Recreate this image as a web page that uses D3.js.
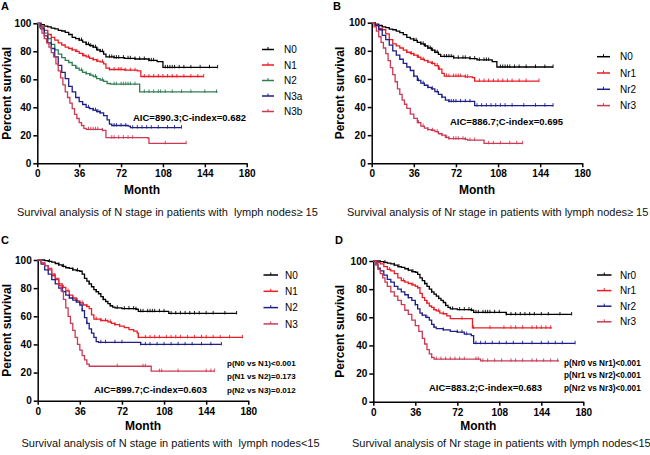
<!DOCTYPE html>
<html><head><meta charset="utf-8">
<script src="https://cdn.jsdelivr.net/npm/d3@7"></script>
<style>
body{margin:0;background:#fff;}
text{font-family:Arial,"Liberation Sans",sans-serif;}
.cap{white-space:pre;}
</style></head><body>
<svg id="c" width="650" height="455"></svg>
<script>
// ---------- shared tick labels ----------
const xTicks = [0, 36, 72, 108, 144, 180];
const yTicks = [0, 20, 40, 60, 80, 100];

// ---------- Panel A (N stage, LN >= 15) ----------
const aNames = ["N0", "N1", "N2", "N3a", "N3b"];
const aN0 = [[0,100],[3,99],[6,98],[9,97.5],[12,96.5],[15,96],[18,95],[21,94.5],[24,93.5],[27,92],[30,90],[33,89],[36,88],[39,86.5],[42,85],[45,84],[48,83],[51,81],[54,80],[57,78],[59,76],[66,75.5],[75,75],[84,74.5],[96,73.5],[103,72.6],[108,68.5],[155,68.5]];
const aN1 = [[0,100],[3,98],[6,95],[9,92],[12,90],[15,88],[18,86],[21,84.5],[24,83],[27,82],[30,81],[33,80],[36,78.5],[39,77],[42,76],[45,75],[48,74],[51,73],[54,72.5],[57,71],[59,68],[62,67],[75,66.5],[86,66],[89,62],[143,62]];
const aN2 = [[0,100],[3,97],[6,93],[9,89],[12,85],[15,81],[18,78],[21,75.5],[24,73.5],[27,72],[30,70],[33,68],[36,66.5],[39,65],[42,64],[45,63],[48,62],[51,60.5],[54,59.5],[57,58.5],[60,57],[63,56.5],[86,56.5],[88,51],[155,51]];
const aN3a = [[0,100],[3,96],[6,91],[9,86],[12,82],[15,76],[18,70],[21,65],[24,60.5],[27,55],[30,51],[33,47],[36,44],[39,42],[42,40],[45,39],[48,38],[51,37],[54,36],[57,34],[60,31],[62,28],[64,27],[78,26.5],[80,25.5],[124,25.5]];
const aN3b = [[0,100],[2,97],[4,93],[6,89],[8,86],[10,83],[12,79],[14,76],[16,71],[18,66],[20,61],[22,56],[24,51],[26,47],[28,43],[30,39],[32,35],[34,32],[36,29],[38,27],[40,25],[42,24.3],[56,23.5],[59,18.3],[95,18],[96,14.3],[128,14.3]];
const aN0c = [36,38,42,44,46,48,50,52,54,56,62,64,66,68,70,74,78,80,84,88,92,96,98,100,110,112,114,116,118,122,126,132,140,148,155];
const aN1c = [30,34,40,44,48,52,56,62,66,70,72,76,80,84,92,96,100,104,108,112,116,120,126,132,138,143];
const aN2c = [34,38,42,46,50,56,66,68,72,74,76,78,80,84,92,96,100,104,106,110,116,124,132,144,154];
const aN3ac = [44,48,50,52,54,66,68,72,76,82,86,90,94,98,104,112,118,124];
const aN3bc = [44,46,48,50,52,56,64,66,70,74,78,82,110,128];

// ---------- Panel B (Nr stage, LN >= 15) ----------
const bNames = ["N0", "Nr1", "Nr2", "Nr3"];
const bN0 = [[0,100],[3,99],[6,98],[9,97],[12,96.5],[15,95.5],[18,95],[21,94],[24,93],[27,91.5],[30,89.5],[33,88.5],[36,87.5],[39,86],[42,85],[45,83.5],[48,82],[51,80.5],[54,79],[57,77.5],[59,76],[70,75],[84,74.5],[90,73.5],[103,72.3],[107,68.5],[155,68.5]];
const bNr1 = [[0,100],[3,98],[6,96],[9,95],[12,92],[15,88],[18,85],[21,83.5],[24,82],[27,80.5],[30,79],[33,78],[36,77],[39,75.5],[42,74],[45,73],[48,72],[51,71],[54,69.5],[57,67],[60,64],[62,62],[80,61.5],[86,61],[88,58.5],[143,58.5]];
const bNr2 = [[0,100],[3,98],[6,95],[9,91],[12,88],[15,84],[18,80],[21,77],[24,74],[27,71],[30,68.5],[33,66],[36,62],[39,59],[42,57],[45,55.5],[48,54],[51,53],[54,51],[57,49],[60,47],[63,45],[66,44],[86,44],[88,41],[155,41]];
const bNr3 = [[0,100],[2,97],[4,94],[6,90],[8,86],[10,82],[12,78],[14,73],[16,68],[18,63],[20,58],[22,53],[24,49],[26,45],[28,42],[30,39],[33,35],[36,32],[39,29],[42,26.5],[45,25],[48,24],[51,23.5],[54,22.5],[57,21],[60,20],[63,18.5],[66,17.5],[80,17],[82,16.5],[95,16.5],[96,14.2],[129,14.2]];
const bN0c = aN0c;
const bNr1c = [30,34,36,40,44,48,52,56,58,64,66,70,72,74,76,80,82,92,96,100,104,108,112,116,120,126,132,143];
const bNr2c = [36,40,44,48,52,56,60,66,68,70,72,76,80,84,90,94,98,102,106,110,114,120,130,140,148,155];
const bNr3c = [40,44,48,52,56,60,64,66,70,72,74,78,80,84,88,100,104,110,118,124,129];

// ---------- Panel C (N stage, LN < 15) ----------
const cNames = ["N0", "N1", "N2", "N3"];
const cN0 = [[0,100],[3,100],[6,99.5],[9,99],[12,98.5],[15,97.5],[18,96.5],[21,95.5],[24,94.5],[27,94],[30,93],[33,92.5],[36,92],[38,90],[40,87],[42,85],[44,83],[46,81],[48,79],[50,77.5],[52,76],[54,74],[56,72],[58,70.5],[60,69],[62,67.5],[64,66.5],[66,66],[72,65.5],[84,65],[86,63.5],[110,63.5],[112,62],[170,62]];
const cN1 = [[0,100],[3,98],[6,96],[9,93],[12,89],[15,86],[18,83],[21,80.5],[24,78],[27,75],[30,73],[33,71],[36,69.5],[39,68],[42,67],[44,65.5],[46,61],[48,58],[54,57],[60,56],[63,55],[66,54],[70,53],[74,52],[78,50.5],[82,49.5],[85,48],[86,45],[175,45]];
const cN2 = [[0,100],[3,97],[6,93],[9,90],[12,86],[15,83],[18,80],[21,77.5],[24,75],[27,73],[30,71.5],[33,70],[36,68],[38,64],[40,59],[42,55],[44,51],[46,48],[48,45],[50,42],[52,41.5],[86,41.5],[88,40],[157,40]];
const cN3 = [[0,100],[3,98],[6,96],[9,94],[12,90],[15,87],[18,82],[20,78],[22,72],[24,66],[26,60],[28,55],[30,50],[32,45],[34,40],[36,36],[38,32],[40,29],[42,26],[44,24.5],[96,24.5],[97,21],[151,21]];
const cN0c = [10,18,22,30,34,44,50,56,62,68,74,78,82,84,88,90,94,96,98,100,104,108,114,118,122,126,130,134,138,144,150,160,170];
const cN1c = [14,22,26,30,34,38,42,50,54,58,62,66,70,86,92,96,100,104,110,114,118,122,128,134,140,144,150,156,164,175];
const cN2c = [38,42,54,58,66,72,88,92,96,102,108,114,120,126,132,140,148,157];
const cN3c = [68,90,92,104,106,120,144,148,151];
const cPvals = ["p(N0 vs N1)<0.001", "p(N1 vs N2)=0.173", "p(N2 vs N3)=0.012"];

// ---------- Panel D (Nr stage, LN < 15) ----------
const dNames = ["Nr0", "Nr1", "Nr2", "Nr3"];
const dNr0 = [[0,100],[3,100],[6,99.5],[9,99],[12,98.5],[15,98],[18,97],[21,96],[24,95.5],[27,94.5],[30,93.5],[33,92.5],[36,92],[38,90.5],[40,88],[42,86],[44,84],[46,82],[48,80],[50,78],[52,76.5],[54,75],[56,73.5],[58,72],[60,70.5],[62,68.5],[64,67],[66,66],[72,65.5],[84,65],[86,63.5],[112,63.5],[114,62],[170,62]];
const dNr1 = [[0,100],[3,99],[6,98],[9,96],[12,94],[15,93],[18,91],[21,88],[24,86],[27,85],[30,84],[33,83],[36,82],[38,81],[40,77],[42,74],[44,72],[46,70],[48,68],[50,67],[52,65.5],[54,64.5],[57,63],[60,62.5],[63,61],[66,59],[84,59],[85,52.5],[153,52.5]];
const dNr2 = [[0,100],[2,98],[4,95],[6,93],[9,90],[12,87],[15,85],[18,82],[21,80],[24,78],[27,76],[30,74],[33,72],[36,69],[38,66],[40,63],[42,61.5],[45,60],[48,58],[50,55],[52,53],[54,52],[60,51],[66,50],[72,49.5],[78,48],[84,47],[86,41.5],[173,41.5]];
const dNr3 = [[0,100],[2,97],[4,94],[6,91],[8,88],[10,85],[12,82],[15,78],[18,75],[21,72],[24,69],[27,65],[30,62],[33,58],[36,54],[39,50],[42,45],[44,41],[46,37],[48,34],[50,31.5],[52,30.3],[90,30.3],[92,29],[159,29]];
const dNr0c = cN0c;
const dNr1c = [14,26,34,38,46,52,56,60,76,86,100,112,118,122,128,136,140,144,148,152];
const dNr2c = [30,36,42,46,52,60,72,76,80,88,92,96,102,108,114,120,128,136,144,150,156,162,173];
const dNr3c = [50,54,58,62,66,70,74,78,88,90,94,98,104,110,118,122,128,136,140,146,152,158];
const dPvals = ["p(Nr0 vs Nr1)<0.001", "p(Nr1 vs Nr2)<0.001", "p(Nr2 vs Nr3)<0.001"];

// ---------- colours ----------
const BLACK = "#000000", RED = "#ec1c24", GREEN = "#2f7d52", NAVY = "#1f1f8a", CRIMSON = "#cc3a55";

const panels = [
  { label: "A", lx: 1, ly: 10, left: 37.3, right: 246.7, top: 23.3, bottom: 163.3,
    names: aNames, series: [aN0, aN1, aN2, aN3a, aN3b], cens: [aN0c, aN1c, aN2c, aN3ac, aN3bc],
    colors: [BLACK, RED, GREEN, NAVY, CRIMSON],
    leg: { x1: 262, x2: 274, tx: 284, y0: 49.5, dy: 15.5 },
    aic: "AIC=890.3;C-index=0.682", aicX: 133, aicY: 121,
    ytx: 10.5, mty: 194,
    caption: "Survival analysis of N stage in patients with  lymph nodes\u2265 15", capX: 17, capY: 216 },
  { label: "B", lx: 333, ly: 10, left: 371.7, right: 582.3, top: 22.7, bottom: 163.3,
    names: bNames, series: [bN0, bNr1, bNr2, bNr3], cens: [bN0c, bNr1c, bNr2c, bNr3c],
    colors: [BLACK, RED, NAVY, CRIMSON],
    leg: { x1: 597, x2: 610, tx: 620, y0: 56.7, dy: 16.3 },
    aic: "AIC=886.7;C-index=0.695", aicX: 450, aicY: 125,
    ytx: 344, mty: 193.5,
    caption: "Survival analysis of Nr stage in patients with lymph nodes\u2265 15", capX: 347, capY: 216 },
  { label: "C", lx: 1, ly: 244, left: 37.7, right: 248.3, top: 260, bottom: 400.7,
    names: cNames, series: [cN0, cN1, cN2, cN3], cens: [cN0c, cN1c, cN2c, cN3c],
    colors: [BLACK, RED, NAVY, CRIMSON],
    leg: { x1: 263.5, x2: 278, tx: 285, y0: 275, dy: 16.3 },
    aic: "AIC=899.7;C-index=0.603", aicX: 94, aicY: 393,
    pv: cPvals, pvX: 227, pvY: 366, pvDy: 13.4, pvSize: 8,
    ytx: 10.5, mty: 429.5,
    caption: "Survival analysis of N stage in patients with  lymph nodes<15", capX: 21.5, capY: 447 },
  { label: "D", lx: 335, ly: 244, left: 373.3, right: 583.3, top: 261, bottom: 401.7,
    names: dNames, series: [dNr0, dNr1, dNr2, dNr3], cens: [dNr0c, dNr1c, dNr2c, dNr3c],
    colors: [BLACK, RED, NAVY, CRIMSON],
    leg: { x1: 597, x2: 611.5, tx: 620, y0: 275, dy: 15.6 },
    aic: "AIC=883.2;C-index=0.683", aicX: 429, aicY: 391,
    pv: dPvals, pvX: 564, pvY: 365.5, pvDy: 12.5, pvSize: 8.2,
    ytx: 344, mty: 429.5,
    caption: "Survival analysis of Nr stage in patients with lymph nodes<15", capX: 352, capY: 447 }
];

const svg = d3.select("#c");

function survAt(series, t) {
  let s = series[0][1];
  for (const p of series) { if (p[0] <= t) s = p[1]; else break; }
  return s;
}

panels.forEach(P => {
  const x = d3.scaleLinear().domain([0, 180]).range([P.left, P.right]);
  const y = d3.scaleLinear().domain([0, 100]).range([P.bottom, P.top]);
  const g = svg.append("g");

  g.append("text").attr("x", P.lx).attr("y", P.ly).text(P.label)
    .attr("font-size", 11).attr("font-weight", "bold");

  const xa = g.append("g").attr("transform", `translate(0,${P.bottom})`)
    .call(d3.axisBottom(x).tickValues(xTicks).tickSize(4).tickSizeOuter(0).tickPadding(3));
  const ya = g.append("g").attr("transform", `translate(${P.left},0)`)
    .call(d3.axisLeft(y).tickValues(yTicks).tickSize(4).tickSizeOuter(0).tickPadding(2));
  [xa, ya].forEach(a => {
    a.select(".domain").attr("stroke", "#000").attr("stroke-width", 1.5);
    a.selectAll(".tick line").attr("stroke", "#000").attr("stroke-width", 1.5);
    a.selectAll(".tick text").attr("font-size", 10).attr("font-weight", "bold")
      .attr("fill", "#000").attr("font-family", "Arial, 'Liberation Sans', sans-serif");
  });

  g.append("text").attr("transform", `translate(${P.ytx},${(P.top + P.bottom) / 2}) rotate(-90)`)
    .attr("text-anchor", "middle").attr("font-size", 12).attr("font-weight", "bold").text("Percent survival");
  g.append("text").attr("x", x(90)).attr("y", P.mty).attr("text-anchor", "middle")
    .attr("font-size", 12).attr("font-weight", "bold").text("Month");

  const line = d3.line().x(d => x(d[0])).y(d => y(d[1])).curve(d3.curveStepAfter);
  P.series.forEach((s, i) => {
    g.append("path").datum(s).attr("d", line).attr("fill", "none")
      .attr("stroke", P.colors[i]).attr("stroke-width", 1.3);
    g.selectAll(null).data(P.cens[i]).enter().append("line")
      .attr("x1", t => x(t)).attr("x2", t => x(t))
      .attr("y1", t => y(survAt(s, t)) - 2.5).attr("y2", t => y(survAt(s, t)) + 1)
      .attr("stroke", P.colors[i]).attr("stroke-width", 0.9);
  });

  P.names.forEach((n, i) => {
    const yy = P.leg.y0 + i * P.leg.dy;
    g.append("line").attr("x1", P.leg.x1).attr("x2", P.leg.x2).attr("y1", yy).attr("y2", yy)
      .attr("stroke", P.colors[i]).attr("stroke-width", 1.5);
    const mx = (P.leg.x1 + P.leg.x2) / 2;
    g.append("line").attr("x1", mx).attr("x2", mx).attr("y1", yy - 2.5).attr("y2", yy)
      .attr("stroke", P.colors[i]).attr("stroke-width", 1);
    g.append("text").attr("x", P.leg.tx).attr("y", yy + 3.6).attr("font-size", 10).text(n);
  });

  g.append("text").attr("x", P.aicX).attr("y", P.aicY).attr("font-size", 9.5)
    .attr("font-weight", "bold").text(P.aic);
  if (P.pv) {
    P.pv.forEach((t, i) => {
      g.append("text").attr("x", P.pvX).attr("y", P.pvY + i * P.pvDy)
        .attr("font-size", P.pvSize).attr("font-weight", "bold").text(t);
    });
  }

  g.append("text").attr("class", "cap").attr("x", P.capX).attr("y", P.capY).attr("font-size", 11)
    .attr("fill", "#111").text(P.caption);
});
</script>
</body></html>
